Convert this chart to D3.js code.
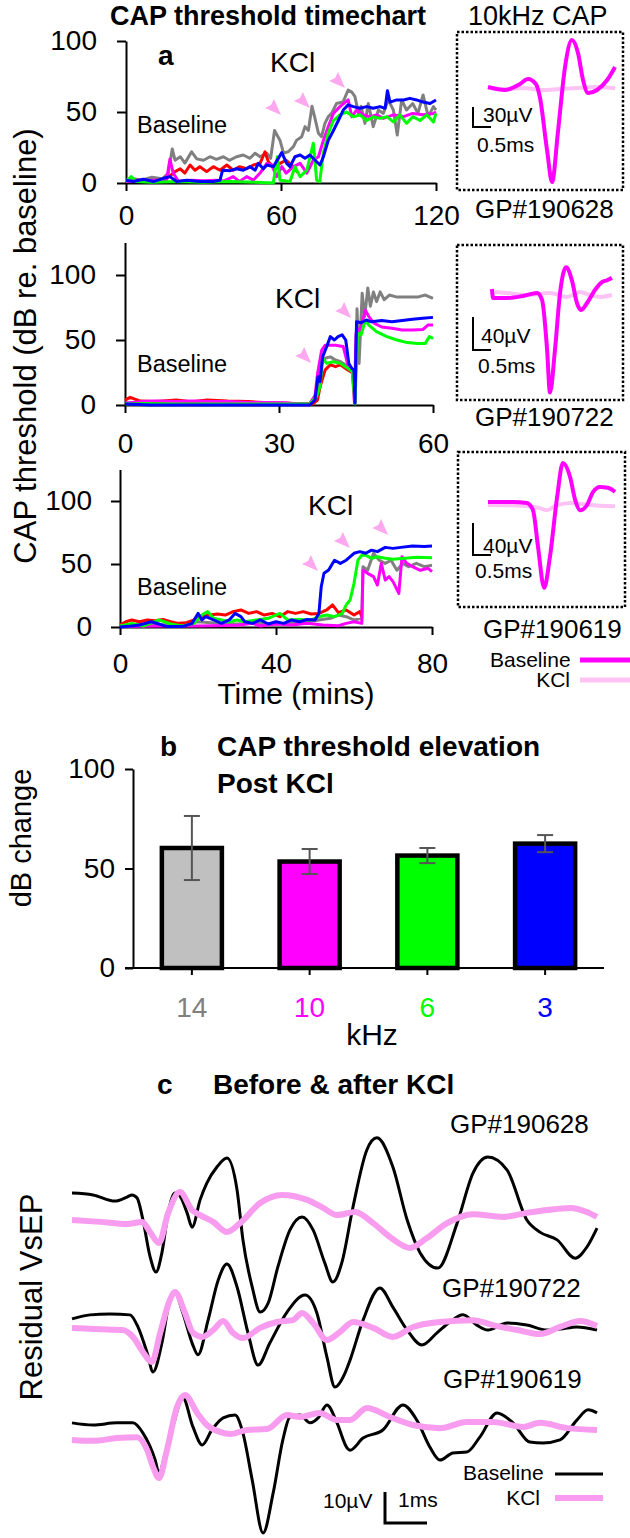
<!DOCTYPE html>
<html><head><meta charset="utf-8">
<script src="https://cdn.jsdelivr.net/npm/d3@7"></script>
<style>
body{margin:0;background:#fff}
svg{display:block}
</style></head><body>
<svg id="fig" width="630" height="1538"></svg>
<script>
// ================= DATA =================
// Panel a: CAP threshold (dB re. baseline) vs time (mins), [time, dB]
const a1Gray = [[0,2],[3,3],[6,2],[10,4],[14,3],[16.4,7],[17.9,24],[19,16],[21,18.5],[22.8,14],[25.4,22],[27.4,17],[30,16],[32.5,18.5],[35,16.7],[37.7,18.5],[40,16],[42.8,18.5],[45.4,19.7],[48,17.4],[50,21],[51.9,18.5],[54.5,21],[56,17.4],[57.5,37],[59.6,30],[61,21],[62.8,22],[64.8,25.6],[66,30],[68,32.6],[69.3,39.7],[70.6,37],[72,54],[73,46.7],[74.5,35],[75.7,32.6],[77,42],[78.3,46.7],[79.6,49],[81.5,56],[84,57],[86,65.5],[87.4,64],[88.6,61],[90,49],[91,54],[92.5,42],[93.8,56],[95.7,39.7],[97.7,51.4],[99.6,49],[101.5,58.5],[103.5,51.4],[105,33.8],[106.7,58.5],[108.6,51.4],[111,56],[113,49],[115,62],[117,46.7],[119,53.8],[120,51.4]];
const a1Red = [[0,1],[5,2],[10,1.5],[15,2.5],[17,5],[19,8],[21,10],[22.8,7],[24.8,12.7],[26.7,9],[28.6,11.5],[31.2,8],[33.8,11.5],[36.4,9],[39,12.7],[41.5,9],[44,11.5],[46.7,10],[49.3,12.7],[51.9,13.8],[53.8,22],[55.1,15],[57,11.5],[59.6,13.8],[62,16],[64.8,11.5],[66.7,7]];
const a1Magenta = [[0,1],[5,1.5],[10,2],[15.7,2],[17,16.7],[18.3,7],[20.3,1],[25,2],[30,1.5],[35,2],[38,1.5],[41.5,4.5],[44,1],[46.7,4.5],[49.3,2],[51.9,7],[54.5,13.8],[56.4,12.7],[58.3,4.5],[60.3,11.5],[62,7],[64.8,11.5],[67.4,13.8],[70,7],[72.5,16],[74.5,18.5],[76.4,30],[78.3,39.7],[80.3,49],[82.8,53.8],[86,58.5],[87.4,46.7],[89.3,51.4],[91.9,48],[94.5,46.7],[97,48],[99.6,45.5],[103.5,48],[107.4,46.7],[111,49],[115,48],[119,49],[120,50]];
const a1Green = [[0,1],[2,4.5],[4,1],[10,0.5],[20,1],[30,0.5],[40,1],[50,0.5],[57,0],[58.6,18.5],[59.6,2],[63.5,1],[65.4,11.5],[67.4,4.5],[70,9],[72.5,28],[73.8,2],[75,1],[76.4,21],[78.3,35],[80.3,44],[82.8,48],[85.4,50],[88,46.7],[90.6,48],[93.2,44],[95.7,46.7],[98.3,45.5],[101,46.7],[103.5,43],[106,48],[108.6,42],[111,46.7],[113.8,44],[116.4,48],[119,43],[120,49]];
const a1Blue = [[0,2],[2.8,1],[6.7,2.6],[10.6,1],[14.5,3.3],[17,4.5],[19.6,1],[23.5,2],[28.6,1],[33.8,1],[36.4,2],[37.4,9],[40.3,8.7],[42.8,10],[45.4,9],[48,11.5],[50,9],[51.2,13.8],[53.2,10],[54.5,12.7],[57,11.5],[60.3,21.4],[62.2,13.8],[63.5,11.5],[65.4,18.5],[67.4,19.7],[69.3,17.4],[71.2,19.7],[73.2,16],[75.1,12.7],[76.4,18.5],[78.3,30],[80.3,37],[82.2,44],[84.1,51.4],[86,55],[88,53.8],[90.6,52.6],[93.2,53.8],[95.7,52.6],[98.3,53.8],[100.3,52.6],[101.2,65],[102.2,57],[104.8,58.5],[107.4,58.5],[109.9,59.6],[112.5,58.5],[115,57],[117.7,56],[120,58.5]];
const a1Arrows = [[56.9,53.5],[68.1,58.5],[81.7,72.5]];

const a2Gray = [[0,1.5],[10,1.5],[20,1.2],[30,1.2],[36,1.2],[37.3,9],[38,29.5],[39,36],[40,37],[41,34.6],[42,33.3],[43.5,29.5],[44.3,25.6],[44.8,3.8],[45.2,74],[45.6,32],[46.2,86],[46.7,68],[47.3,90],[47.8,76],[48.4,87],[49,79.5],[49.7,87],[50.5,81],[51.5,84.6],[53,83],[55,83],[57,83],[58.5,84.6],[60,82]];
const a2Red = [[0,3.8],[1,5.9],[3,3],[6,2.6],[10,3.8],[13,2.6],[16,3.8],[20,3],[24,2.6],[28,1.8],[32,1.3],[34.5,0.5],[36.6,0.8],[37.5,3.8],[38,14],[39,27],[40,31],[41,29.5],[42,31],[43,28],[44,25.6],[44.5,24],[44.8,1.3]];
const a2Magenta = [[0,1.3],[3,2.6],[6,3],[10,2.6],[13,3],[17,2.6],[20,2.6],[24,2],[28,2],[31,1.8],[34,0.8],[36,0.8],[37,6.4],[37.5,24],[38.3,42],[39,46],[41,46],[42.5,45],[43.5,29.5],[44.3,25.6],[44.7,1.3],[45,55],[46,60],[46.8,73],[47.5,68],[48.5,63],[50,60],[52,59],[54,57.7],[56,57.7],[58,58],[59,61.5],[60,61.5]];
const a2Green = [[0,0.8],[4,1.2],[10,0.8],[20,0.8],[30,0.8],[36,0.8],[37.3,6.4],[38,14],[38.5,36],[39.3,32],[40.5,33.3],[42,32],[43.5,28],[44.3,25.6],[44.8,0.8],[45.3,55],[46,54],[46.8,65],[47.5,61.5],[49,56.4],[51,52.6],[53,50],[55,48],[57,47.4],[58.5,47.4],[59.3,52.6],[60,51.3]];
const a2Blue = [[0,0.8],[5,0],[10,0],[20,0],[28,0],[36,0],[37,3.8],[37.6,21.8],[38,18],[38.5,37],[39.3,45],[40,52.6],[40.8,50],[41.5,52.6],[42.3,54],[43,50],[43.6,32],[44.2,28],[44.6,27],[44.8,1.3],[45.1,64],[46,63.3],[47,65.4],[48,64],[50,65],[52,64],[54,65],[56,66],[58,66.7],[60,67.4]];
const a2Arrows = [[34.7,38.5],[42.5,73]];

const a3Gray = [[0,0.8],[5,2.4],[10,1.6],[15,2.4],[20,4.2],[25,2.9],[30,2.4],[35,2.9],[40,2.4],[45,3.4],[48,4.2],[51,5.6],[54,6.9],[56,9.5],[58,8.2],[60,5.6],[62,6.9],[62.3,47.9],[63.5,45],[65,58.5],[66.5,53],[68,50.5],[69.5,53],[71,45],[72.5,50.5],[74,47.9],[76,50.5],[78,47.9],[80,49]];
const a3Red = [[0,1.6],[1.5,4.2],[3,5.6],[5,4.2],[7,5.6],[9,5],[11,6],[13,4.2],[15,2.9],[17,3.4],[19,5.6],[21,8.2],[23,9.5],[25,10.3],[27,9.5],[29,12.2],[31,13.5],[33,10.8],[35,12.2],[37,9.5],[39,10.8],[41,8.2],[43,12.2],[45,10.8],[47,12.2],[49,10.3],[51,10.8],[53,13.5],[54.5,17.5],[56,11.4],[58,13.5],[60,9.5],[61.5,12.2],[62,8.2]];
const a3Magenta = [[0,0.3],[10,0.8],[20,0.8],[30,1.3],[34,2.9],[36,0.8],[40,2.4],[44,1.6],[48,2.9],[52,1.6],[56,1],[58,2.9],[60,4.2],[62,2.9],[62.3,45],[63.5,42.6],[65,40],[66,33.3],[67,50.5],[68,37.3],[69,40],[70,36],[71.5,26.7],[72.3,55.8],[73.5,50.5],[75,47.9],[77,45],[79,46.6],[80,44]];
const a3Green = [[0,0.8],[3,2.9],[6,0.8],[10,5.6],[13,2.4],[16,0.8],[19,2.9],[21,9.5],[22.5,12.2],[24,6.9],[26,5.6],[28,4.2],[30,5.6],[32,4.2],[35,5.6],[38,6.9],[41,10.8],[43,5.6],[46,6],[49,5.6],[51,8.2],[53,9.5],[55,8.2],[57,10.8],[58,17.5],[59,21.4],[60,34.7],[61,53],[62,57],[63,57],[64.5,54.5],[66,55.8],[68,54.5],[70,53.7],[73,54.5],[76,55.3],[80,55]];
const a3Blue = [[0,0],[2,0.5],[5,1.6],[8,4.2],[10,2.4],[12,0.3],[16,0.3],[18.5,2.9],[20,10.8],[21,5.6],[22,8.2],[24,5.6],[26,2.9],[28,5.6],[29.5,10.8],[31,8.2],[32,4.2],[34,2.9],[36,5.6],[38,2.4],[40,4.2],[42,2.9],[44,5.6],[46,4.2],[48,6],[50,5.6],[51,10.8],[51.6,32],[52.3,42.6],[53.5,45.2],[55,53],[56.5,50.5],[58,53],[60,58.5],[61.5,59.8],[63,58.5],[64.5,61],[66,59.8],[68,63.2],[70,62.4],[72,63.2],[75,64.3],[78,63.8],[80,64.3]];
const a3Arrows = [[48.7,50.8],[56.9,69],[66.7,79.4]];

const xTicksA1 = [0,60,120], xTicksA2 = [0,30,60], xTicksA3 = [0,40,80];
const yTicksA = [0,50,100];

// Insets: 10kHz CAP waveforms, [ms, µV]
const insetBase1 = [[0,1.5],[0.47,-3],[0.89,6],[1.11,13.5],[1.33,6],[1.44,-13.5],[1.64,-93],[1.78,-141],[1.94,-67.5],[2.14,31.5],[2.33,72],[2.5,52.5],[2.64,12],[2.78,-7.5],[3.03,-3],[3.31,12],[3.53,31.5]];
const insetKCl1 = [[0,0],[0.5,-1.5],[1,0],[1.5,-3],[2,-1.5],[2.5,0],[3,1.5],[3.53,-0.5]];
const insetBase2 = [[0,8.5],[0.03,-2.4],[0.42,-2.4],[0.86,0],[1.25,3.6],[1.39,-4.8],[1.53,-65],[1.61,-117],[1.75,-65],[1.89,3.6],[2.06,35],[2.22,19],[2.36,-8.5],[2.47,-17],[2.64,-8.5],[2.86,7.3],[3.06,17],[3.19,19],[3.33,22]];
const insetKCl2 = [[0.08,4.8],[0.42,3.6],[0.97,1.2],[1.61,3.6],[2.08,-1.2],[2.44,4.8],[2.72,1.2],[3.0,-1.2],[3.33,1.2]];
const insetBase3 = [[0,1.2],[0.69,1.2],[1.08,0],[1.25,-9],[1.39,-55],[1.56,-106],[1.72,-67.5],[1.92,7.5],[2.08,50],[2.28,32.5],[2.42,4],[2.56,-9],[2.75,-2.5],[2.92,14],[3.11,20],[3.33,19],[3.53,14]];
const insetKCl3 = [[0,-2.5],[0.8,-3],[1.4,-6],[1.64,-9],[1.9,-3],[2.3,0],[2.8,-2.5],[3.53,-4]];
const insetScaleUv = [30,40,40];
const animalIds = ["GP#190628","GP#190722","GP#190619"];

// Panel b: CAP threshold elevation post KCl
const freqLabels = ["14","10","6","3"];
const elevMean = [60.3,53.5,56.5,62.5];
const elevErr = [16.1,6.3,3.8,4.3];
const yTicksB = [0,50,100];

// Panel c: residual VsEP, [ms, µV]
const c1Base = [[0,4.5],[0.5,3.9],[1.02,1.9],[1.31,3.2],[1.43,3.9],[1.55,2.9],[1.69,-4.2],[1.86,-16.1],[2.0,-21],[2.14,-14.8],[2.29,-1.9],[2.45,4.5],[2.55,3.9],[2.74,-1.9],[2.86,-6.5],[3.05,2.3],[3.21,7.7],[3.45,12.9],[3.69,15.8],[3.93,5.5],[4.07,-10.6],[4.29,-25.8],[4.48,-33.9],[4.67,-31],[4.9,-19.4],[5.19,-7.4],[5.48,-3.2],[5.74,-7.4],[6.02,-18.1],[6.21,-24.2],[6.43,-17.7],[6.69,0],[7.02,18.4],[7.26,22.3],[7.64,12.9],[7.98,-4.2],[8.29,-14.8],[8.71,-19.7],[9.17,-5.2],[9.55,11],[9.9,16.1],[10.36,11.9],[10.83,-4.2],[11.14,-8.1],[11.55,-10.6],[11.98,-16.5],[12.26,-12.9],[12.5,-6.8]];
const c1KCl = [[0,-4.2],[0.67,-4.8],[1.31,-5.5],[1.67,-4.8],[1.86,-8.1],[2.07,-11.6],[2.29,-1.9],[2.57,4.8],[2.86,-1],[3.05,-2.6],[3.36,-4.8],[3.69,-8.1],[4.0,-5.2],[4.48,1.3],[5.0,3.9],[5.6,2.3],[5.98,-0.3],[6.31,-2.6],[6.74,-1.6],[7.17,-5.2],[7.57,-9.7],[8.05,-13.2],[8.45,-10],[8.93,-5.2],[9.55,-2.3],[10.26,-3.2],[10.83,-1.9],[11.31,-1],[11.86,-0.3],[12.26,-1.6],[12.5,-3.2]];
const c2Base = [[0,1],[0.43,2.3],[0.9,2.6],[1.38,2.3],[1.57,-1.6],[1.79,-10],[1.93,-16.1],[2.14,-6.8],[2.33,7.1],[2.45,9.4],[2.64,2.9],[2.86,-6.8],[3.0,-10.6],[3.24,0.6],[3.48,13.5],[3.69,18.7],[3.93,11.3],[4.19,-3.5],[4.43,-13.9],[4.71,-6.8],[5.12,3.2],[5.55,8.7],[5.83,2.9],[6.07,-11.3],[6.26,-21],[6.5,-16.5],[6.62,-12.3],[6.93,0.6],[7.33,11],[7.64,4.8],[7.98,-2.6],[8.33,-7.4],[8.69,-3.5],[9.0,0],[9.31,2.3],[9.64,-1],[9.9,-2.6],[10.36,-0.3],[10.83,-1],[11.31,-2.6],[11.62,-2.3],[12.02,-1.6],[12.5,-2.6]];
const c2KCl = [[0,-1.9],[0.67,-2.3],[1.21,-2.6],[1.45,-4.8],[1.69,-9.7],[1.9,-12.9],[2.1,-3.5],[2.33,7.1],[2.45,9.7],[2.69,2.9],[2.88,-3.5],[3.1,-4.8],[3.36,-2.6],[3.6,0.3],[3.83,-3.5],[4.07,-5.2],[4.48,-1.9],[4.88,0],[5.26,0.6],[5.48,2.9],[5.74,-0.3],[6.07,-5.8],[6.38,-3.2],[6.69,0],[7.17,-1.9],[7.64,-4.8],[8.12,-1.6],[8.76,0],[9.55,0.6],[10.02,-1],[10.6,-2.6],[11.14,-3.9],[11.62,-1.6],[12.1,0.3],[12.5,-1.3]];
const c3Base = [[0,2.3],[0.5,1.6],[1.07,2.3],[1.45,2.3],[1.69,-1],[1.98,-9.7],[2.07,-13.9],[2.24,-6.5],[2.4,1],[2.64,10.3],[2.88,1],[3.1,-4.8],[3.33,0],[3.6,3.9],[3.88,4.8],[4.07,-1],[4.29,-16.1],[4.55,-33.2],[4.79,-20.3],[5.02,-3.2],[5.19,4.2],[5.43,4.8],[5.67,2.3],[5.86,3.9],[6.07,8.1],[6.31,2.3],[6.55,-5.8],[6.62,-6.5],[6.93,-2.6],[7.4,0],[7.88,8.1],[8.21,3.2],[8.52,-5.5],[8.76,-9.7],[9.07,-7.4],[9.4,-7.1],[9.71,-2.3],[10.12,5.5],[10.5,2.3],[10.9,-3.9],[11.21,-4.2],[11.62,-3.2],[12.02,3.2],[12.29,6.5],[12.5,5.5]];
const c3KCl = [[0,-3.2],[0.5,-3.5],[1.07,-2.6],[1.55,-2.3],[1.79,-6.5],[1.93,-11.9],[2.07,-15.5],[2.26,-6.5],[2.5,7.4],[2.69,11.3],[2.98,5.5],[3.21,1.6],[3.52,-0.6],[3.76,-1.3],[4.17,0],[4.64,0.3],[5.12,4.8],[5.43,4.2],[5.9,5.5],[6.31,3.2],[6.62,3.2],[7.02,7.1],[7.57,4.2],[8.12,1.6],[8.76,0.6],[9.4,2.6],[10.02,2.6],[10.74,1],[11.14,2.3],[11.79,0.6],[12.5,0]];

// ================= STYLE / LAYOUT =================
const FONT = "'Liberation Sans', Arial, Helvetica, sans-serif";
const seriesColors = ["#808080","#ff0000","#ff00ff","#00ff00","#0000ff"];
const barColors = ["#c0c0c0","#ff00ff","#00ff00","#0000ff"];
const labelColors = ["#808080","#ff00ff","#00ff00","#0000ff"];
const capBase = "#ff00ff", capKCl = "#ffc2f4", vsepKCl = "#f89cef", arrowCol = "#ffa8f0";

const svg = d3.select("#fig");
svg.append("rect").attr("width",630).attr("height",1538).attr("fill","#fff");

function txt(x,y,s,o={}){
  const t = svg.append("text").attr("x",x).attr("y",y).text(s)
    .attr("font-size",o.size||28).attr("font-family",FONT)
    .attr("fill",o.fill||"#000").attr("text-anchor",o.anchor||"start");
  if(o.bold) t.attr("font-weight","bold");
  if(o.rotate) t.attr("transform",`rotate(${o.rotate},${x},${y})`);
  return t;
}
function styleAxis(g,size){
  g.attr("font-size",size||28).attr("font-family",FONT);
  g.selectAll("path,line").attr("stroke","#000").attr("stroke-width",2);
  g.selectAll("text").attr("fill","#000");
}

// ================= PANEL A =================
const panelsA = [
  {series:[a1Gray,a1Red,a1Magenta,a1Green,a1Blue], xMax:120, xTicks:xTicksA1, yMax:100, arrows:a1Arrows,
   L:{left:126,right:436,bottom:183,top:41,xPad:14,yPad:20}, kcl:[270,72], base:[137,133]},
  {series:[a2Gray,a2Red,a2Magenta,a2Green,a2Blue], xMax:60, xTicks:xTicksA2, yMax:125, arrows:a2Arrows,
   L:{left:125,right:433,bottom:405,top:242.5,xPad:20,yPad:20}, kcl:[275,308], base:[137,372]},
  {series:[a3Gray,a3Red,a3Magenta,a3Green,a3Blue], xMax:80, xTicks:xTicksA3, yMax:125, arrows:a3Arrows,
   L:{left:120,right:432,bottom:627,top:469.5,xPad:18,yPad:19}, kcl:[308,515], base:[137,595]}
];
panelsA.forEach(p=>{
  const L=p.L;
  const x = d3.scaleLinear().domain([0,p.xMax]).range([L.left,L.right]);
  const y = d3.scaleLinear().domain([0,p.yMax]).range([L.bottom,L.top]);
  const gx = svg.append("g").attr("transform",`translate(0,${L.bottom})`)
    .call(d3.axisBottom(x).tickValues(p.xTicks).tickSize(8).tickSizeOuter(0).tickPadding(L.xPad));
  styleAxis(gx);
  const gy = svg.append("g").attr("transform",`translate(${L.left},0)`)
    .call(d3.axisLeft(y).tickValues(yTicksA).tickSize(9).tickSizeOuter(0).tickPadding(L.yPad));
  styleAxis(gy);
  const line = d3.line().x(d=>x(d[0])).y(d=>y(d[1]));
  p.series.forEach((s,i)=>{
    svg.append("path").datum(s).attr("d",line).attr("fill","none")
      .attr("stroke",seriesColors[i]).attr("stroke-width",3).attr("stroke-linejoin","round");
  });
  svg.selectAll(null).data(p.arrows).enter().append("path")
    .attr("d","M8,8 L-8,1 L-2,-2 L1,-8 Z").attr("fill",arrowCol)
    .attr("transform",d=>`translate(${x(d[0])},${y(d[1])})`);
  txt(p.kcl[0],p.kcl[1],"KCl",{size:28});
  txt(p.base[0],p.base[1],"Baseline",{size:23.5});
});
txt(110,25,"CAP threshold timechart",{bold:true,size:27});
txt(158,65,"a",{bold:true,size:28});
txt(468,25,"10kHz CAP",{size:27});
txt(36,346,"CAP threshold (dB re. baseline)",{size:31,anchor:"middle",rotate:-90});
txt(296,704,"Time (mins)",{size:30,anchor:"middle"});

// ================= INSETS =================
const insets = [
  {base:insetBase1,kcl:insetKCl1,box:[457,32,623,190],x0:488,zero:88,k:0.667,bar:[473,127],txt1:[483,122],txt2:[477,152],id:[475,218]},
  {base:insetBase2,kcl:insetKCl2,box:[457,245,623,400],x0:492,zero:296,k:0.825,bar:[473,350],txt1:[481,343],txt2:[478,373],id:[475,426]},
  {base:insetBase3,kcl:insetKCl3,box:[458,452,625,607],x0:488,zero:503,k:0.8,bar:[473,555],txt1:[483,553],txt2:[475,578],id:[483,638]}
];
insets.forEach((c,i)=>{
  svg.append("rect").attr("x",c.box[0]).attr("y",c.box[1]).attr("width",c.box[2]-c.box[0]).attr("height",c.box[3]-c.box[1])
    .attr("fill","none").attr("stroke","#000").attr("stroke-width",2.5).attr("stroke-dasharray","2.5,2");
  const x = d3.scaleLinear().domain([0,1]).range([c.x0,c.x0+36]);
  const y = d3.scaleLinear().domain([0,100]).range([c.zero,c.zero-100*c.k]);
  const line = d3.line().x(d=>x(d[0])).y(d=>y(d[1])).curve(d3.curveMonotoneX);
  svg.append("path").datum(c.kcl).attr("d",line).attr("fill","none").attr("stroke",capKCl).attr("stroke-width",4);
  svg.append("path").datum(c.base).attr("d",line).attr("fill","none").attr("stroke",capBase).attr("stroke-width",4);
  const hLen = x(0.5)-x(0), vLen = y(0)-y(insetScaleUv[i]);
  svg.append("path").attr("d",`M${c.bar[0]},${c.bar[1]-vLen} V${c.bar[1]} H${c.bar[0]+hLen}`)
    .attr("fill","none").attr("stroke","#000").attr("stroke-width",2);
  txt(c.txt1[0],c.txt1[1],insetScaleUv[i]+"µV",{size:21});
  txt(c.txt2[0],c.txt2[1],"0.5ms",{size:21});
  txt(c.id[0],c.id[1],animalIds[i],{size:26});
});
txt(490,667,"Baseline",{size:21});
txt(570,687,"KCl",{size:21,anchor:"end"});
svg.append("line").attr("x1",580).attr("x2",630).attr("y1",660).attr("y2",660).attr("stroke",capBase).attr("stroke-width",5);
svg.append("line").attr("x1",580).attr("x2",630).attr("y1",680).attr("y2",680).attr("stroke",capKCl).attr("stroke-width",5);

// ================= PANEL B =================
(function(){
  const xb = d3.scaleBand().domain(freqLabels).range([133,604]).paddingInner(0.49).paddingOuter(0.245);
  const yb = d3.scaleLinear().domain([0,100]).range([968,769]);
  const gy = svg.append("g").attr("transform","translate(133,0)")
    .call(d3.axisLeft(yb).tickValues(yTicksB).tickSize(8).tickSizeOuter(0).tickPadding(10));
  styleAxis(gy);
  svg.selectAll(null).data(freqLabels).enter().append("rect")
    .attr("x",d=>xb(d)).attr("y",(d,i)=>yb(elevMean[i]))
    .attr("width",xb.bandwidth()).attr("height",(d,i)=>yb(0)-yb(elevMean[i]))
    .attr("fill",(d,i)=>barColors[i]).attr("stroke","#000").attr("stroke-width",4.5);
  const gx = svg.append("g").attr("transform","translate(0,968)")
    .call(d3.axisBottom(xb).tickSize(7).tickSizeOuter(0).tickPadding(22));
  styleAxis(gx);
  gx.select(".domain").attr("d","M125,0H604");
  gx.selectAll(".tick text").attr("fill",(d,i)=>labelColors[i]);
  const eb = svg.append("g").attr("stroke","#555").attr("stroke-width",2);
  freqLabels.forEach((f,i)=>{
    const cx = xb(f)+xb.bandwidth()/2, hi=yb(elevMean[i]+elevErr[i]), lo=yb(elevMean[i]-elevErr[i]);
    eb.append("line").attr("x1",cx).attr("x2",cx).attr("y1",hi).attr("y2",lo);
    eb.append("line").attr("x1",cx-8).attr("x2",cx+8).attr("y1",hi).attr("y2",hi);
    eb.append("line").attr("x1",cx-8).attr("x2",cx+8).attr("y1",lo).attr("y2",lo);
  });
  txt(372,1045,"kHz",{size:30,anchor:"middle"});
  txt(160,756,"b",{bold:true,size:28});
  txt(217,756,"CAP threshold elevation",{bold:true,size:28});
  txt(217,793,"Post KCl",{bold:true,size:28});
  txt(31,838,"dB change",{size:29,anchor:"middle",rotate:-90});
})();

// ================= PANEL C =================
(function(){
  const xc = d3.scaleLinear().domain([0,12.5]).range([72,597]);
  const groups = [
    {base:c1Base,kcl:c1KCl,zero:1207,id:[450,1133]},
    {base:c2Base,kcl:c2KCl,zero:1322,id:[442,1297]},
    {base:c3Base,kcl:c3KCl,zero:1430,id:[443,1388]}
  ];
  groups.forEach((g,i)=>{
    const yc = d3.scaleLinear().domain([0,10]).range([g.zero,g.zero-31]);
    const line = d3.line().x(d=>xc(d[0])).y(d=>yc(d[1])).curve(d3.curveMonotoneX);
    svg.append("path").datum(g.base).attr("d",line).attr("fill","none").attr("stroke","#000").attr("stroke-width",3).attr("stroke-linejoin","round");
    svg.append("path").datum(g.kcl).attr("d",line).attr("fill","none").attr("stroke",vsepKCl).attr("stroke-width",6).attr("stroke-linejoin","round");
    txt(g.id[0],g.id[1],animalIds[i],{size:26});
  });
  const ys = d3.scaleLinear().domain([0,10]).range([1523,1492]);
  const hLen = xc(1)-xc(0);
  svg.append("path").attr("d",`M385,${ys(10)} V${ys(0)} H${385+hLen}`).attr("fill","none").attr("stroke","#000").attr("stroke-width",3);
  txt(323,1508,"10µV",{size:21});
  txt(398,1507,"1ms",{size:21});
  txt(463,1480,"Baseline",{size:21});
  txt(540,1505,"KCl",{size:21,anchor:"end"});
  svg.append("line").attr("x1",555).attr("x2",603).attr("y1",1474).attr("y2",1474).attr("stroke","#000").attr("stroke-width",3);
  svg.append("line").attr("x1",555).attr("x2",603).attr("y1",1498).attr("y2",1498).attr("stroke",vsepKCl).attr("stroke-width",6);
  txt(157,1094,"c",{bold:true,size:28});
  txt(213,1094,"Before & after KCl",{bold:true,size:28});
  txt(42,1297,"Residual VsEP",{size:31,anchor:"middle",rotate:-90});
})();
</script>
</body></html>
